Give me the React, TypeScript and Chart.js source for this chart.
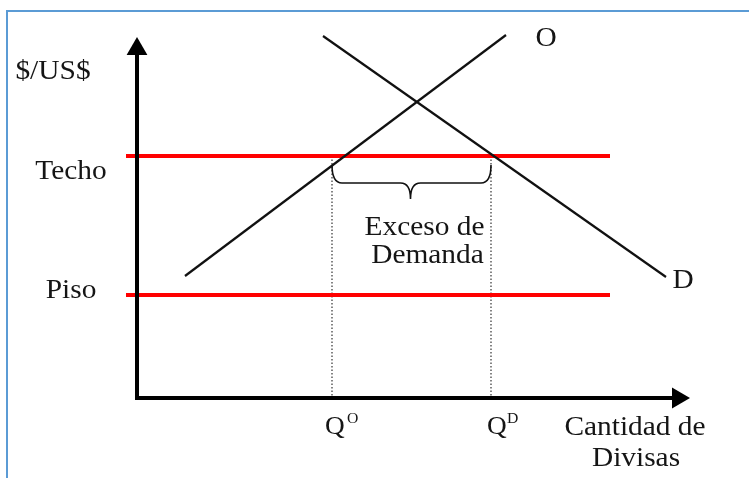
import React, { useEffect, useRef } from "react";
import { Chart, registerables } from "chart.js";

Chart.register(...registerables);

// Economic model (quantity of foreign currency vs. exchange rate $/US$)
const supplyQ = [4.8, 36.9];
const supplyP = [12.2, 36.3];
const demandQ = [18.6, 52.9];
const demandP = [36.2, 12.1];
const techo = 24.2;
const piso = 10.3;
const priceLineQ = [-1.1, 47.3];
const qO = 19.5;
const qD = 35.4;
const yAxisTop = 36.1;
const xAxisEnd = 55.3;
const braceLevels = [23.3, 21.5, 19.9];
const yLabels = ["Techo", "Piso"];
const qLabels = ["O", "D"];

const FONT = '"Liberation Serif", "Times New Roman", serif';

const annotations = {
  id: "annotations",
  afterDatasetsDraw(chart: any) {
    const { ctx, scales } = chart;
    const xs = scales.x;
    const ys = scales.y;
    const px = (v: number) => xs.getPixelForValue(v);
    const py = (v: number) => ys.getPixelForValue(v);
    const ax0 = px(0);

    ctx.save();
    // brace
    const xl = px(qO);
    const xr = px(qD);
    const xm = (xl + xr) / 2 - 1;
    const yTop = py(braceLevels[0]);
    const yMid = py(braceLevels[1]);
    const yTip = py(braceLevels[2]);
    const r = 10;
    ctx.beginPath();
    ctx.moveTo(xl, yTop);
    ctx.quadraticCurveTo(xl, yMid, xl + r, yMid);
    ctx.lineTo(xm - r, yMid);
    ctx.quadraticCurveTo(xm, yMid, xm, yTip);
    ctx.quadraticCurveTo(xm, yMid, xm + r, yMid);
    ctx.lineTo(xr - r, yMid);
    ctx.quadraticCurveTo(xr, yMid, xr, yTop);
    ctx.strokeStyle = "#111";
    ctx.lineWidth = 1.6;
    ctx.stroke();

    const text = (s: string, x: number, y: number, size: number, align: CanvasTextAlign = "center") => {
      ctx.font = `${size}px ${FONT}`;
      ctx.fillStyle = "#151515";
      ctx.textAlign = align;
      ctx.textBaseline = "alphabetic";
      ctx.save();
      ctx.translate(x, y);
      ctx.scale(1.05, 1);
      ctx.fillText(s, 0, 0);
      ctx.restore();
    };

    const S = 28;
    text("$/US$", ax0 - 84, py(yAxisTop) + 42, S);
    text(yLabels[0], ax0 - 66, py(techo) + 23, S);
    text(yLabels[1], ax0 - 66, py(piso) + 3, S);
    text(qLabels[0], px(supplyQ[1]) + 40, py(supplyP[1]) + 11, S);
    text(qLabels[1], px(demandQ[1]) + 17, py(demandP[1]) + 11, S);
    text("Exceso de", (xl + xr) / 2 + 13, yTip + 36, S);
    text("Demanda", (xl + xr) / 2 + 16, yTip + 64, S);

    const base = py(0) + 36;
    text("Q", xl - 7, base, 26, "left");
    text(qLabels[0], xl + 15, base - 11, 15, "left");
    text("Q", xr - 4, base, 26, "left");
    text(qLabels[1], xr + 16, base - 11, 15, "left");
    text("Cantidad de", px(xAxisEnd) - 55, base + 1, S);
    text("Divisas", px(xAxisEnd) - 54, base + 32, S);
    ctx.restore();
  },
};

export default function App() {
  const ref = useRef<HTMLCanvasElement>(null);
  useEffect(() => {
    if (!ref.current) return;
    const line = (pts: { x: number; y: number }[], color: string, width: number, order: number, extra: any = {}) => ({
      data: pts,
      showLine: true,
      borderColor: color,
      borderWidth: width,
      pointRadius: 0,
      fill: false,
      order,
      ...extra,
    });
    const chart = new Chart(ref.current, {
      type: "scatter",
      data: {
        datasets: [
          {
            data: [
              { x: 0, y: 34.9 },
              { x: 54.1, y: 0 },
            ],
            pointStyle: "triangle",
            pointRadius: 12,
            pointBackgroundColor: "#000",
            pointBorderWidth: 0,
            rotation: [0, 90] as any,
            showLine: false,
            order: 0,
          } as any,
          line(
            [
              { x: 0, y: yAxisTop - 1.5 },
              { x: 0, y: 0 },
              { x: xAxisEnd - 1.5, y: 0 },
            ],
            "#000",
            4,
            1,
            { borderJoinStyle: "miter" }
          ),
          line(
            [
              { x: supplyQ[0], y: supplyP[0] },
              { x: supplyQ[1], y: supplyP[1] },
            ],
            "#111",
            2.2,
            2
          ),
          line(
            [
              { x: demandQ[0], y: demandP[0] },
              { x: demandQ[1], y: demandP[1] },
            ],
            "#111",
            2.2,
            2
          ),
          line(
            [
              { x: priceLineQ[0], y: techo },
              { x: priceLineQ[1], y: techo },
            ],
            "#ff0000",
            4,
            3
          ),
          line(
            [
              { x: priceLineQ[0], y: piso },
              { x: priceLineQ[1], y: piso },
            ],
            "#ff0000",
            4,
            3
          ),
          line(
            [
              { x: qO, y: techo },
              { x: qO, y: 0 },
            ],
            "#333",
            1.2,
            4,
            { borderDash: [1.5, 2] }
          ),
          line(
            [
              { x: qD, y: techo },
              { x: qD, y: 0 },
            ],
            "#333",
            1.2,
            4,
            { borderDash: [1.5, 2] }
          ),
        ],
      },
      options: {
        animation: false,
        responsive: false,
        maintainAspectRatio: false,
        layout: { padding: 0, autoPadding: false },
        plugins: { legend: { display: false }, tooltip: { enabled: false } },
        events: [],
        scales: {
          x: { type: "linear", min: -13.7, max: 61.2, display: false },
          y: { type: "linear", min: -8, max: 39.8, display: false },
        },
      },
      plugins: [annotations],
    });
    return () => chart.destroy();
  }, []);

  return (
    <div
      style={{
        position: "fixed",
        left: 0,
        top: 0,
        width: 749,
        height: 478,
        overflow: "hidden",
        background: "#fff",
      }}
    >
      <div
        style={{
          position: "absolute",
          left: 6,
          top: 10,
          width: 900,
          height: 700,
          borderLeft: "2px solid #5b9bd5",
          borderTop: "2px solid #5b9bd5",
        }}
      />
      <canvas ref={ref} width={749} height={478} style={{ position: "absolute", left: 0, top: 0 }} />
    </div>
  );
}
